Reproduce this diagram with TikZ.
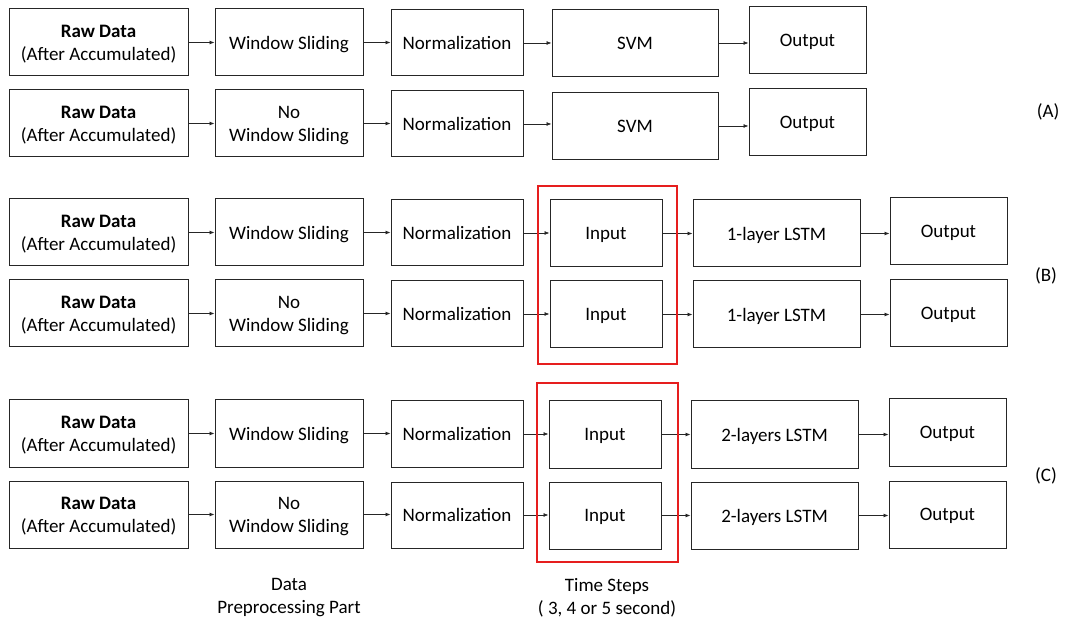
\documentclass[tikz,border=0pt]{standalone}
\usepackage{fontspec}
\setmainfont{Carlito}
\usetikzlibrary{arrows.meta}
\definecolor{frame}{RGB}{230,30,30}
\begin{document}
\begin{tikzpicture}[x=1pt,y=-1pt,
  box/.style={draw=black!85, line width=1pt, inner sep=0pt, align=center, font=\fontsize{19}{23}\selectfont, text depth=-1.5pt},
  raw/.style={box, minimum width=179pt, minimum height=67pt},
  wsb/.style={box, minimum width=148pt, minimum height=67pt},
  nrm/.style={box, minimum width=132pt, minimum height=66pt},
  svmb/.style={box, minimum width=166pt, minimum height=67pt},
  outb/.style={box, minimum width=117pt, minimum height=67pt},
  inb/.style={box, minimum width=112pt, minimum height=67pt},
  lstm/.style={box, minimum width=167pt, minimum height=67pt},
  redbox/.style={draw=frame, line width=2pt, inner sep=0pt},
  lab/.style={align=center, font=\fontsize{19}{23}\selectfont},
  arr/.style={-{Latex[length=5pt,width=4pt]}, line width=0.7pt, draw=black!85}
]
\useasboundingbox (0,0) rectangle (1069,620);
% Row A1
\node[raw] (a1r) at (98.5,42.5) {\textbf{Raw Data}\\(After Accumulated)};
\node[wsb] (a1w) at (289,42.5) {Window Sliding};
\node[nrm] (a1n) at (457,43) {Normalization};
\node[svmb] (a1s) at (635,43) {SVM};
\node[outb] (a1o) at (807.5,40.5) {Output};
% Row A2
\node[raw] (a2r) at (98.5,123.5) {\textbf{Raw Data}\\(After Accumulated)};
\node[wsb] (a2w) at (289,123.5) {No\\Window Sliding};
\node[nrm] (a2n) at (457,124) {Normalization};
\node[svmb] (a2s) at (635,126) {SVM};
\node[outb] (a2o) at (807.5,122) {Output};
% Row B1
\node[raw] (b1r) at (98.5,232.5) {\textbf{Raw Data}\\(After Accumulated)};
\node[wsb] (b1w) at (289,232.5) {Window Sliding};
\node[nrm] (b1n) at (457,233) {Normalization};
\node[inb] (b1i) at (606,233.5) {Input};
\node[lstm] (b1l) at (776.5,233.5) {1-layer LSTM};
\node[outb] (b1o) at (948.5,231.5) {Output};
% Row B2
\node[raw] (b2r) at (98.5,313.5) {\textbf{Raw Data}\\(After Accumulated)};
\node[wsb] (b2w) at (289,313.5) {No\\Window Sliding};
\node[nrm] (b2n) at (457,314) {Normalization};
\node[inb] (b2i) at (606,314.5) {Input};
\node[lstm] (b2l) at (776.5,314.5) {1-layer LSTM};
\node[outb] (b2o) at (948.5,313.5) {Output};
% Row C1
\node[raw] (c1r) at (98.5,433.5) {\textbf{Raw Data}\\(After Accumulated)};
\node[wsb] (c1w) at (289,433.5) {Window Sliding};
\node[nrm] (c1n) at (457,434) {Normalization};
\node[inb] (c1i) at (605,434.5) {Input};
\node[lstm] (c1l) at (774.5,434.5) {2-layers LSTM};
\node[outb] (c1o) at (947.5,432.5) {Output};
% Row C2
\node[raw] (c2r) at (98.5,514.5) {\textbf{Raw Data}\\(After Accumulated)};
\node[wsb] (c2w) at (289,514.5) {No\\Window Sliding};
\node[nrm] (c2n) at (457,515) {Normalization};
\node[inb] (c2i) at (605,515.5) {Input};
\node[lstm] (c2l) at (774.5,515.5) {2-layers LSTM};
\node[outb] (c2o) at (947.5,514.5) {Output};
% arrows
\foreach \r in {a1,a2} {
  \draw[arr] (\r r.east) -- (\r r.east -| \r w.west);
  \draw[arr] (\r w.east) -- (\r w.east -| \r n.west);
  \draw[arr] (\r n.east) -- (\r n.east -| \r s.west);
  \draw[arr] (\r s.east) -- (\r s.east -| \r o.west);
}
\foreach \r in {b1,b2,c1,c2} {
  \draw[arr] (\r r.east) -- (\r r.east -| \r w.west);
  \draw[arr] (\r w.east) -- (\r w.east -| \r n.west);
  \draw[arr] (\r n.east) -- (\r n.east -| \r i.west);
  \draw[arr] (\r i.east) -- (\r i.east -| \r l.west);
  \draw[arr] (\r l.east) -- (\r l.east -| \r o.west);
}
% red frames
\node[redbox, minimum width=139pt, minimum height=178pt] (rb) at (607,275.5) {};
\node[redbox, minimum width=141pt, minimum height=178pt] (rc) at (607,472.5) {};
% side labels
\node[lab] (la) at (1048,112) {(A)};
\node[lab] (lb) at (1046,276) {(B)};
\node[lab] (lc) at (1046,476) {(C)};
% bottom labels
\node[lab] (ldp) at (289,598) {Data\\Preprocessing Part};
\node[lab] (lts) at (607,598) {Time Steps\\( 3, 4 or 5 second)};
\end{tikzpicture}
\end{document}
